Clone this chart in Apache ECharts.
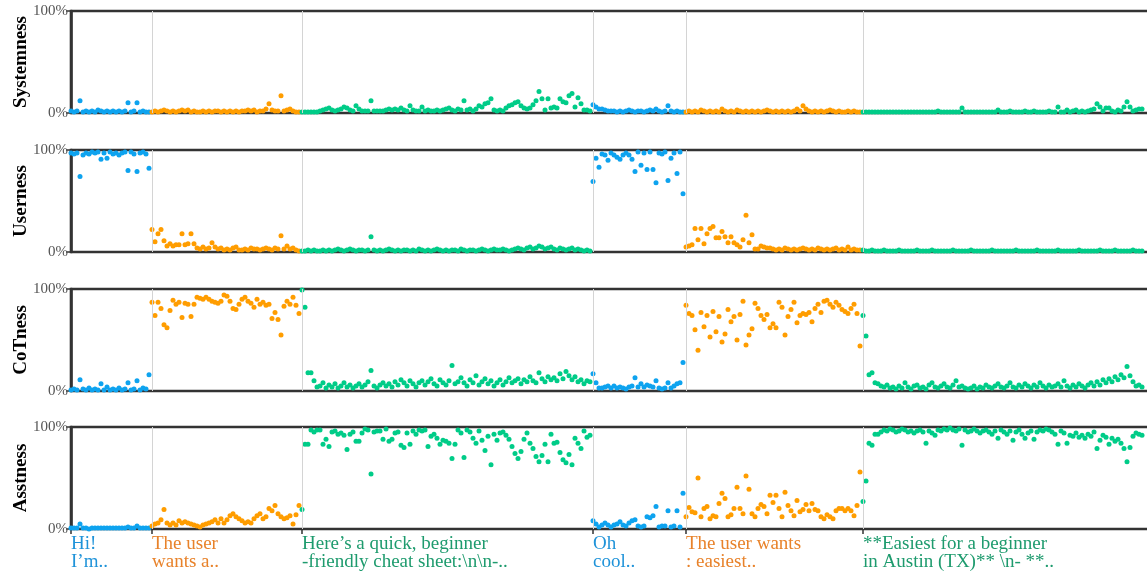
<!DOCTYPE html>
<html>
<head>
<meta charset="utf-8">
<script src="https://cdn.jsdelivr.net/npm/echarts@6/dist/echarts.min.js"></script>
<style>
  html, body { margin: 0; padding: 0; background: #ffffff; }
  #chart { width: 1147px; height: 573px; }
</style>
</head>
<body>
<div id="chart"></div>
<script>
// Conversation turns, one per segment of tokens (left to right)
const segmentLabels = [
  'Hi!\nI’m..',
  'The user\nwants a..',
  'Here’s a quick, beginner\n-friendly cheat sheet:\\n\\n-..',
  'Oh\ncool..',
  'The user wants\n: easiest..',
  '**Easiest for a beginner\nin Austin (TX)** \\n- **..'
];
const segmentKinds = ['user', 'think', 'assistant', 'user', 'think', 'assistant'];

const panelNames = ['Systemness', 'Userness', 'CoTness', 'Asstness'];
const yTicks = [0, 100];

// Per-token probe scores (%), one inner array per segment
const systemness = [
  [2,1,2,12,1,2,1,2,1,3, 2,1,2,1,2,1,2,1,2,10, 1,2,10,1,2,1,1],
  [1,2,1,2,3,2,1,2,1,2, 3,2,3,1,2,1,1,2,1,2, 1,2,2,1,2,1,2,1,2,1, 2,2,3,2,3,1,2,2,4,9, 3,2,2,17,2,3,4,2,1,1],
  [1,1,1,1,1,1,2,3,4,5, 3,2,3,4,6,5,3,2,7,4, 2,2,2,12,2,2,2,2,3,4, 3,4,3,5,3,2,7,3,2,2,
   6,2,3,2,2,3,2,3,4,5, 3,2,4,3,12,3,4,2,4,7, 6,9,10,14,3,2,3,2,5,7, 8,10,11,7,5,4,5,8,12,21,
   14,3,14,5,6,5,14,11,10,17, 19,6,15,9,3,3,2],
  [8,6,4,4,3,2,2,2,1,2, 1,2,3,2,1,2,2,1,2,3, 2,4,2,1,2,7,2,1,2,1, 1],
  [1,2,1,2,1,3,2,1,2,1, 2,1,4,2,1,2,1,3,2,1, 2,1,2,1,2,1,2,3,2,1, 2,1,2,1,2,1,2,4,2,7,
   4,2,1,2,1,2,1,2,3,2, 1,2,1,1,2,1,2,1,1],
  [1,1,1,1,1,1,1,1,1,1, 1,1,1,1,1,1,1,1,1,1, 1,1,1,1,1,2,1,1,1,1, 1,1,1,5,1,1,1,1,1,1,
   1,1,1,1,1,3,1,1,1,2, 1,1,1,1,2,1,1,2,1,1, 1,1,2,1,1,6,1,1,3,1, 2,3,1,2,1,2,3,4,9,6,
   2,5,5,2,1,3,2,6,11,6, 2,3,4,4]
];

const userness = [
  [97,96,97,74,95,97,96,98,97,98, 91,97,92,98,96,97,95,97,98,80, 98,96,79,97,98,96,82],
  [22,10,18,22,11,6,8,6,7,7, 18,7,8,18,8,4,3,5,3,4, 9,5,3,4,2,3,2,4,5,2, 2,3,2,4,3,3,2,3,4,3, 2,4,3,16,3,6,3,4,2,1],
  [1,1,2,1,2,1,1,2,1,2, 1,2,3,2,1,2,3,2,1,2, 2,1,2,15,2,1,2,1,2,3, 2,1,2,1,2,2,1,2,1,3,
   2,1,2,1,2,3,2,1,2,1, 2,2,1,3,2,1,2,2,1,2, 3,2,1,2,3,2,2,3,2,1, 2,3,4,3,2,4,5,3,4,6,
   5,3,4,5,3,2,4,3,2,3, 4,2,3,2,1,2,1],
  [69,92,83,96,95,90,97,95,93,91, 95,97,95,91,79,98,85,97,81,98, 81,68,97,96,98,70,92,97,77,98, 57],
  [5,6,7,23,12,23,8,18,23,25, 14,14,20,15,9,15,9,7,5,12, 36,9,17,3,3,6,5,4,4,3, 2,3,2,4,3,2,3,2,3,4,
   3,2,3,2,4,3,2,3,2,3, 4,2,3,2,5,2,3,2,2],
  [2,1,1,2,1,1,1,2,1,1, 1,1,2,1,1,1,1,1,2,1, 1,1,1,2,1,1,1,1,1,1, 2,1,1,1,1,1,2,1,1,1,
   1,1,1,2,1,1,1,1,1,1, 1,2,1,1,1,1,1,1,2,1, 1,1,1,1,1,2,1,1,1,1, 1,1,2,1,1,1,1,1,1,2,
   1,1,1,1,2,1,1,1,1,1, 2,1,1,1]
];

const cotness = [
  [1,2,1,11,2,1,3,1,2,1, 7,1,4,1,2,1,3,1,2,8, 1,2,10,1,3,2,16],
  [87,74,87,81,65,62,79,89,85,87, 72,86,85,73,85,92,91,90,92,90, 88,87,86,88,94,93,88,81,80,85,
   90,92,88,86,82,90,85,87,84,85, 71,77,70,55,83,88,85,92,84,76],
  [99,82,18,18,10,4,5,8,3,6, 4,7,3,5,8,4,6,3,5,7, 4,6,9,20,5,3,6,8,5,7, 4,9,6,11,8,5,10,7,4,8,
   10,6,9,12,7,5,11,8,6,10, 25,7,9,13,8,5,11,8,15,6, 9,12,7,10,5,8,11,6,9,13, 8,10,12,7,11,9,14,10,8,18,
   12,9,14,11,13,10,17,12,19,15, 11,14,9,11,7,10,9],
  [17,8,3,3,4,5,3,5,3,4, 3,2,4,5,13,4,7,4,6,5, 4,10,3,2,3,8,3,5,7,8, 28],
  [84,76,74,60,40,77,63,74,53,78, 58,73,48,56,80,68,73,50,75,88, 45,55,61,86,81,74,70,75,62,66,
   62,87,82,55,73,80,87,67,74,76, 75,77,68,81,85,77,88,89,85,82, 87,84,80,78,76,81,85,76,44],
  [74,54,16,18,8,7,5,4,6,3, 4,2,5,3,8,4,2,5,6,3, 4,2,6,8,4,3,5,7,4,3, 6,10,4,5,3,2,3,5,2,4,
   3,6,4,3,5,7,4,3,5,8, 4,3,6,4,7,5,3,6,4,8, 5,3,6,4,5,7,4,10,5,3, 6,4,7,5,3,6,8,5,9,6,
   11,8,12,9,14,11,16,13,24,15, 9,5,6,4]
];

const asstness = [
  [1,1,1,5,1,1,0,1,1,1, 1,1,1,1,1,1,1,1,1,2, 1,1,3,1,1,1,1],
  [3,5,6,9,19,6,4,6,4,8, 6,7,6,5,4,3,2,4,5,6, 7,9,6,10,6,9,13,15,12,10, 8,6,7,6,10,13,15,10,12,20,
   18,23,15,12,10,11,13,5,14,23],
  [19,83,83,97,95,97,97,83,88,81, 95,96,93,94,92,78,93,95,86,86, 94,98,97,54,95,96,96,88,98,86,
   88,94,95,82,80,94,83,96,93,97, 96,97,81,91,93,89,83,87,86,84, 69,83,97,94,70,97,95,89,84,96,
   87,77,91,63,93,87,94,95,92,88, 81,74,69,76,88,94,84,79,71,66, 72,83,66,93,84,85,75,68,65,73,
   63,89,84,79,96,90,92],
  [8,5,2,4,6,4,2,4,5,7, 4,3,6,8,9,3,2,3,12,11, 13,22,2,3,3,18,2,3,18,2, 35],
  [12,21,17,16,50,12,20,22,10,13, 12,25,35,30,12,14,20,41,20,15, 52,39,15,12,20,24,22,15,33,26,
   33,20,12,36,23,18,13,28,17,19, 24,18,25,19,18,12,10,14,12,10, 18,20,20,18,20,18,13,23,56],
  [27,47,84,82,93,93,95,97,96,98, 97,95,96,98,97,95,96,94,96,97, 95,84,96,94,92,97,96,98,97,99,
   97,96,98,82,97,95,96,98,96,94, 96,97,95,93,96,89,97,95,93,96, 87,95,97,93,89,94,96,88,95,97,
   96,98,97,95,93,83,96,94,84,92, 91,94,90,92,89,93,91,95,79,87, 92,90,83,89,86,88,84,79,66,80,
   91,94,93,92]
];

const panels = [systemness, userness, cotness, asstness];

// Styling
const pointColors = { user: '#0ea3ef', think: '#ff9d00', assistant: '#00cc88' };
const textColors  = { user: '#1f93d9', think: '#e8822a', assistant: '#1e9b6e' };
const SERIF = "'Liberation Serif', 'Times New Roman', serif";
const FRAME = '#333333';

// Token index where each segment starts
const segStarts = [];
{
  let s = 0;
  systemness.forEach(seg => { segStarts.push(s); s += seg.length; });
}

const gridTops = [11, 150, 289, 427];
const gridHeight = 102;
const gridLeft = 71;
const gridRight = -3;
const chartWidth = 1147;
const pxPerToken = 3;
const xMax = (chartWidth - gridLeft - gridRight) / pxPerToken;

const grids = gridTops.map(top => ({
  left: gridLeft, right: gridRight, top: top, height: gridHeight,
  outerBoundsMode: 'none', containLabel: false,
  show: true, borderColor: FRAME, borderWidth: 2.6, backgroundColor: 'transparent'
}));

const richStyles = {};
segmentKinds.forEach((k, i) => {
  richStyles['s' + i] = { color: textColors[k], fontFamily: SERIF, fontSize: 19, lineHeight: 18 };
});

const xAxes = panels.map((_, p) => {
  const bottom = p === panels.length - 1;
  return {
    gridIndex: p, type: 'value', min: 0, max: xMax,
    show: bottom,
    axisLine: { show: false },
    splitLine: { show: false },
    axisTick: { show: bottom, customValues: segStarts, length: 5, lineStyle: { color: FRAME, width: 1.5 } },
    axisLabel: {
      show: bottom, customValues: segStarts, margin: 6, align: 'left',
      formatter: v => {
        const i = segStarts.indexOf(v);
        if (i < 0) return '';
        return segmentLabels[i].split('\n').map(line => '{s' + i + '|' + line + '}').join('\n');
      },
      rich: richStyles
    }
  };
});

// Scale axes with percent ticks, plus a label-free companion axis per panel carrying the title
const yAxes = [];
panels.forEach((_, p) => {
  yAxes.push({
    gridIndex: p, type: 'value', min: yTicks[0], max: yTicks[1], interval: yTicks[1] - yTicks[0],
    axisLine: { show: true, lineStyle: { color: FRAME, width: 2.6 } },
    axisTick: { show: true, length: 5, lineStyle: { color: FRAME, width: 1.5 } },
    axisLabel: { formatter: '{value}%', fontFamily: SERIF, fontSize: 15, color: '#555555', margin: 3 },
    splitLine: { show: false }
  });
});
panels.forEach((_, p) => {
  yAxes.push({
    gridIndex: p, type: 'value', position: 'left', min: yTicks[0], max: yTicks[1],
    name: panelNames[p], nameLocation: 'middle', nameGap: 40, nameRotate: 90,
    nameTextStyle: { fontFamily: SERIF, fontWeight: 'bold', fontSize: 19, color: '#000' },
    axisLine: { show: false }, axisTick: { show: false }, axisLabel: { show: false },
    splitLine: { show: false }
  });
});

const series = [];
panels.forEach((segs, p) => {
  segs.forEach((vals, s) => {
    const item = {
      type: 'scatter',
      xAxisIndex: p, yAxisIndex: p,
      symbolSize: 5,
      silent: true,
      itemStyle: { color: pointColors[segmentKinds[s]], opacity: 1 },
      data: vals.map((v, i) => [segStarts[s] + i, v])
    };
    if (s === 0) {
      // light separators between turns
      item.markLine = {
        silent: true, symbol: ['none', 'none'], animation: false,
        label: { show: false },
        lineStyle: { color: '#d4d4d4', width: 1, type: 'solid' },
        emphasis: { disabled: true },
        data: segStarts.slice(1).map(x => ({ xAxis: x }))
      };
    }
    series.push(item);
  });
});

const chart = echarts.init(document.getElementById('chart'), null, { renderer: 'canvas' });
chart.setOption({
  animation: false,
  backgroundColor: '#ffffff',
  grid: grids,
  xAxis: xAxes,
  yAxis: yAxes,
  series: series
});
</script>
</body>
</html>
